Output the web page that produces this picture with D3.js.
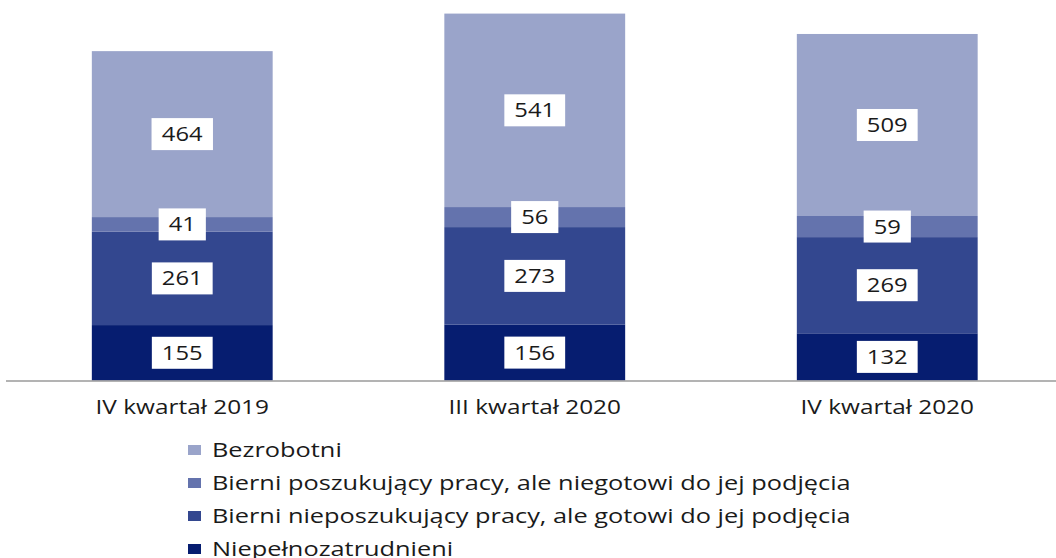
<!DOCTYPE html>
<html>
<head>
<meta charset="utf-8">
<script src="https://cdn.jsdelivr.net/npm/d3@7"></script>
<style>
  body { margin: 0; background: #fff; }
  text { font-family: "Open Sans", sans-serif; fill: #1a1a1a; }
</style>
</head>
<body>
<script>
// quarters on the x axis
var quarters = ['IV kwartał 2019', 'III kwartał 2020', 'IV kwartał 2020']

// series, bottom to top
var seriesNames = [
  'Niepełnozatrudnieni',
  'Bierni nieposzukujący pracy, ale gotowi do jej podjęcia',
  'Bierni poszukujący pracy, ale niegotowi do jej podjęcia',
  'Bezrobotni'
]
var niepelno = [155, 156, 132]
var nieposzuk = [261, 273, 269]
var poszuk = [41, 56, 59]
var bezrobotni = [464, 541, 509]
var colors = ['#061d70', '#33478f', '#6473ad', '#9aa4ca']

var W = 1056, H = 558
var sx = 1.22 // source picture text is horizontally stretched

var svg = d3.select('body').append('svg')
  .attr('width', W)
  .attr('height', H)

var rows = quarters.map(function (q, i) {
  return { q: q, s0: niepelno[i], s1: nieposzuk[i], s2: poszuk[i], s3: bezrobotni[i] }
})
var stack = d3.stack().keys(['s0', 's1', 's2', 's3'])(rows)

var x = d3.scaleBand().domain(quarters)
  .range([6, 1063.5])
  .paddingInner(0.487)
  .paddingOuter(0.2435)

var y = d3.scaleLinear().domain([0, 1064]).range([380.5, 0])

function stretchedText(g, str, px, py, size, anchor, k) {
  var t = g.append('text')
    .attr('transform', 'translate(' + px + ',' + py + ') scale(' + (k || sx) + ',1)')
    .attr('font-size', size)
    .attr('text-anchor', anchor || 'start')
    .text(str)
  return t
}

// bars
var layers = svg.selectAll('.layer')
  .data(stack)
  .enter().append('g')
  .attr('class', 'layer')
  .attr('fill', function (d, i) { return colors[i] })

layers.selectAll('rect')
  .data(function (d) { return d })
  .enter().append('rect')
  .attr('x', function (d) { return x(d.data.q) })
  .attr('width', x.bandwidth())
  .attr('y', function (d) { return y(d[1]) })
  .attr('height', function (d) { return y(d[0]) - y(d[1]) })

// axis line
svg.append('line')
  .attr('x1', 6).attr('x2', W)
  .attr('y1', 381).attr('y2', 381)
  .attr('stroke', '#9a9a9a').attr('stroke-width', 1.5)

// value labels on white boxes
var labels = svg.append('g')
stack.forEach(function (layer) {
  layer.forEach(function (d) {
    var cx = x(d.data.q) + x.bandwidth() / 2
    var cy = (y(d[0]) + y(d[1])) / 2
    var g = labels.append('g')
    var box = g.append('rect').attr('fill', '#fff')
    var t = stretchedText(g, String(d[1] - d[0]), cx, cy + 7, 19.5, 'middle')
    var w = t.node().getBBox().width * sx + 20
    box.attr('x', cx - w / 2).attr('y', cy - 16)
      .attr('width', w).attr('height', 32)
  })
})

// category labels
quarters.forEach(function (q) {
  stretchedText(svg, q, x(q) + x.bandwidth() / 2, 414, 20, 'middle')
})

// legend, top entry is the top series
var legend = svg.append('g')
seriesNames.slice().reverse().forEach(function (name, i) {
  var ci = seriesNames.length - 1 - i
  var cy = 450 + i * 33
  legend.append('rect')
    .attr('x', 188).attr('y', cy - 5)
    .attr('width', 13).attr('height', 10)
    .attr('fill', colors[ci])
  stretchedText(legend, name, 212, cy + 7, 19.5, 'start', 1.3)
})
</script>
</body>
</html>
